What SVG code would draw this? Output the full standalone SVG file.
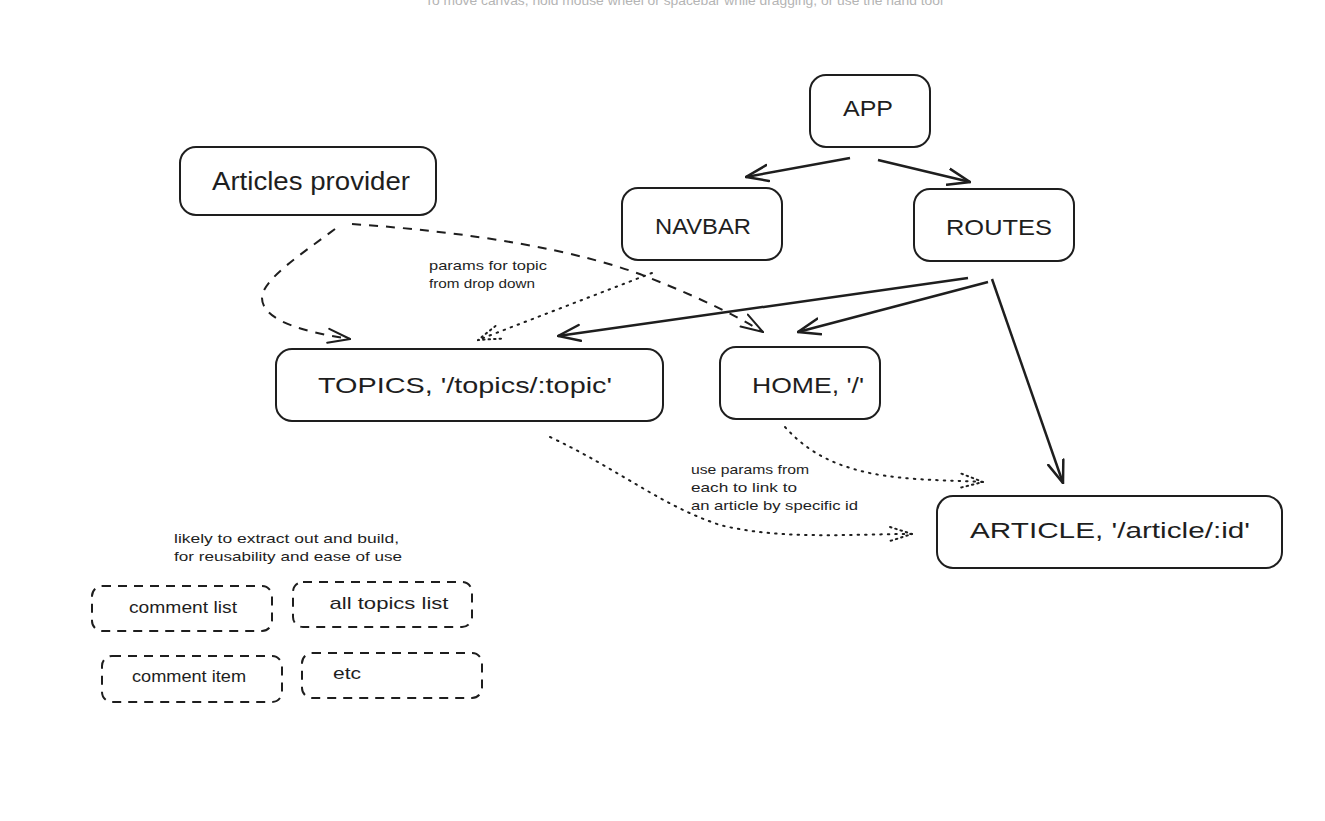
<svg xmlns="http://www.w3.org/2000/svg" width="1325" height="821" viewBox="0 0 1325 821">
<style>
text{font-family:"Liberation Sans",Arial,sans-serif;fill:#1e1e1e}
.box{fill:none;stroke:#1e1e1e;stroke-width:2}
.dbox{fill:none;stroke:#1e1e1e;stroke-width:2;stroke-dasharray:9 7}
.solid{fill:none;stroke:#1e1e1e;stroke-width:2.5;marker-end:url(#ah)}
.dash{fill:none;stroke:#1e1e1e;stroke-width:2;stroke-dasharray:9 8;marker-end:url(#ahd)}
.dot{fill:none;stroke:#1e1e1e;stroke-width:2;stroke-dasharray:1.5 6;stroke-linecap:round;marker-end:url(#aht)}
.lbl{font-size:22px;text-anchor:middle}
.sm{font-size:13px}
.mid{font-size:17px;text-anchor:middle}
</style>
<defs>
<marker id="ah" viewBox="0 0 24 20" refX="23" refY="10" markerWidth="24" markerHeight="20" markerUnits="userSpaceOnUse" orient="auto">
<path d="M1,2 L23,10 L1,18" fill="none" stroke="#1e1e1e" stroke-width="2.5" stroke-linecap="round"/>
</marker>
<marker id="ahd" viewBox="0 0 24 20" refX="23" refY="10" markerWidth="24" markerHeight="20" markerUnits="userSpaceOnUse" orient="auto">
<path d="M1,3 L23,10 L1,17" fill="none" stroke="#1e1e1e" stroke-width="2" stroke-linecap="round"/>
</marker>
<marker id="aht" viewBox="0 0 24 20" refX="23" refY="10" markerWidth="24" markerHeight="20" markerUnits="userSpaceOnUse" orient="auto">
<path d="M1,3 L23,10 L1,17" fill="none" stroke="#1e1e1e" stroke-width="2" stroke-dasharray="1.5 4" stroke-linecap="round"/>
</marker>
</defs>

<text x="684" y="5" font-size="13" text-anchor="middle" style="fill:#b4b4b4" textLength="518" lengthAdjust="spacingAndGlyphs">To move canvas, hold mouse wheel or spacebar while dragging, or use the hand tool</text>

<g id="connectors">
<path class="solid" d="M850,158 L746,177"/>
<path class="solid" d="M878,160 L970,182"/>
<path class="solid" d="M968,278 L558,336"/>
<path class="solid" d="M988,282 L798,332"/>
<path class="solid" d="M992,279 L1063,483"/>
<path class="dash" d="M335,229 C300,255 262,280 262,298 C262,322 310,333 350,339"/>
<path class="dash" d="M352,224 C470,232 580,250 650,278 C700,298 735,315 763,332"/>
<path class="dot" d="M652,273 L478,340"/>
<path class="dot" d="M550,437 C620,470 660,505 720,525 C780,540 850,534 912,534"/>
<path class="dot" d="M785,427 C810,455 840,468 880,475 C920,481 950,480 983,482"/>
</g>

<g id="app">
<rect class="box" x="810" y="75" width="120" height="72" rx="16"/>
<text class="lbl" x="868" y="116" textLength="50" lengthAdjust="spacingAndGlyphs">APP</text>
</g>
<g id="navbar">
<rect class="box" x="622" y="188" width="160" height="72" rx="16"/>
<text class="lbl" x="703" y="234" textLength="96" lengthAdjust="spacingAndGlyphs">NAVBAR</text>
</g>
<g id="routes">
<rect class="box" x="914" y="189" width="160" height="72" rx="16"/>
<text class="lbl" x="999" y="235" textLength="106" lengthAdjust="spacingAndGlyphs">ROUTES</text>
</g>
<g id="articles-provider">
<rect class="box" x="180" y="147" width="256" height="68" rx="16"/>
<text class="lbl" x="311" y="190" style="font-size:25px" textLength="198" lengthAdjust="spacingAndGlyphs">Articles provider</text>
</g>
<g id="topics">
<rect class="box" x="276" y="349" width="387" height="72" rx="16"/>
<text class="lbl" x="465" y="393" textLength="294" lengthAdjust="spacingAndGlyphs">TOPICS, '/topics/:topic'</text>
</g>
<g id="home">
<rect class="box" x="720" y="347" width="160" height="72" rx="16"/>
<text class="lbl" x="808" y="393" textLength="112" lengthAdjust="spacingAndGlyphs">HOME, '/'</text>
</g>
<g id="article">
<rect class="box" x="937" y="496" width="345" height="72" rx="16"/>
<text class="lbl" x="1110" y="538" textLength="280" lengthAdjust="spacingAndGlyphs">ARTICLE, '/article/:id'</text>
</g>

<g id="label-params">
<text class="sm" x="429" y="270" textLength="118" lengthAdjust="spacingAndGlyphs">params for topic</text>
<text class="sm" x="429" y="288" textLength="106" lengthAdjust="spacingAndGlyphs">from drop down</text>
</g>
<g id="label-use">
<text class="sm" x="691" y="474" textLength="118" lengthAdjust="spacingAndGlyphs">use params from</text>
<text class="sm" x="691" y="492" textLength="106" lengthAdjust="spacingAndGlyphs">each to link to</text>
<text class="sm" x="691" y="510" textLength="167" lengthAdjust="spacingAndGlyphs">an article by specific id</text>
</g>
<g id="label-likely">
<text class="sm" x="174" y="543" textLength="225" lengthAdjust="spacingAndGlyphs">likely to extract out and build,</text>
<text class="sm" x="174" y="561" textLength="228" lengthAdjust="spacingAndGlyphs">for reusability and ease of use</text>
</g>

<g id="comment-list">
<rect class="dbox" x="92" y="586" width="180" height="45" rx="10"/>
<text class="mid" x="183" y="613" textLength="108" lengthAdjust="spacingAndGlyphs">comment list</text>
</g>
<g id="all-topics-list">
<rect class="dbox" x="293" y="582" width="179" height="45" rx="10"/>
<text class="mid" x="389" y="609" textLength="119" lengthAdjust="spacingAndGlyphs">all topics list</text>
</g>
<g id="comment-item">
<rect class="dbox" x="102" y="656" width="180" height="46" rx="10"/>
<text class="mid" x="189" y="682" textLength="114" lengthAdjust="spacingAndGlyphs">comment item</text>
</g>
<g id="etc">
<rect class="dbox" x="302" y="653" width="180" height="45" rx="10"/>
<text class="sm" x="333" y="679" style="font-size:17px" textLength="28" lengthAdjust="spacingAndGlyphs">etc</text>
</g>
</svg>
